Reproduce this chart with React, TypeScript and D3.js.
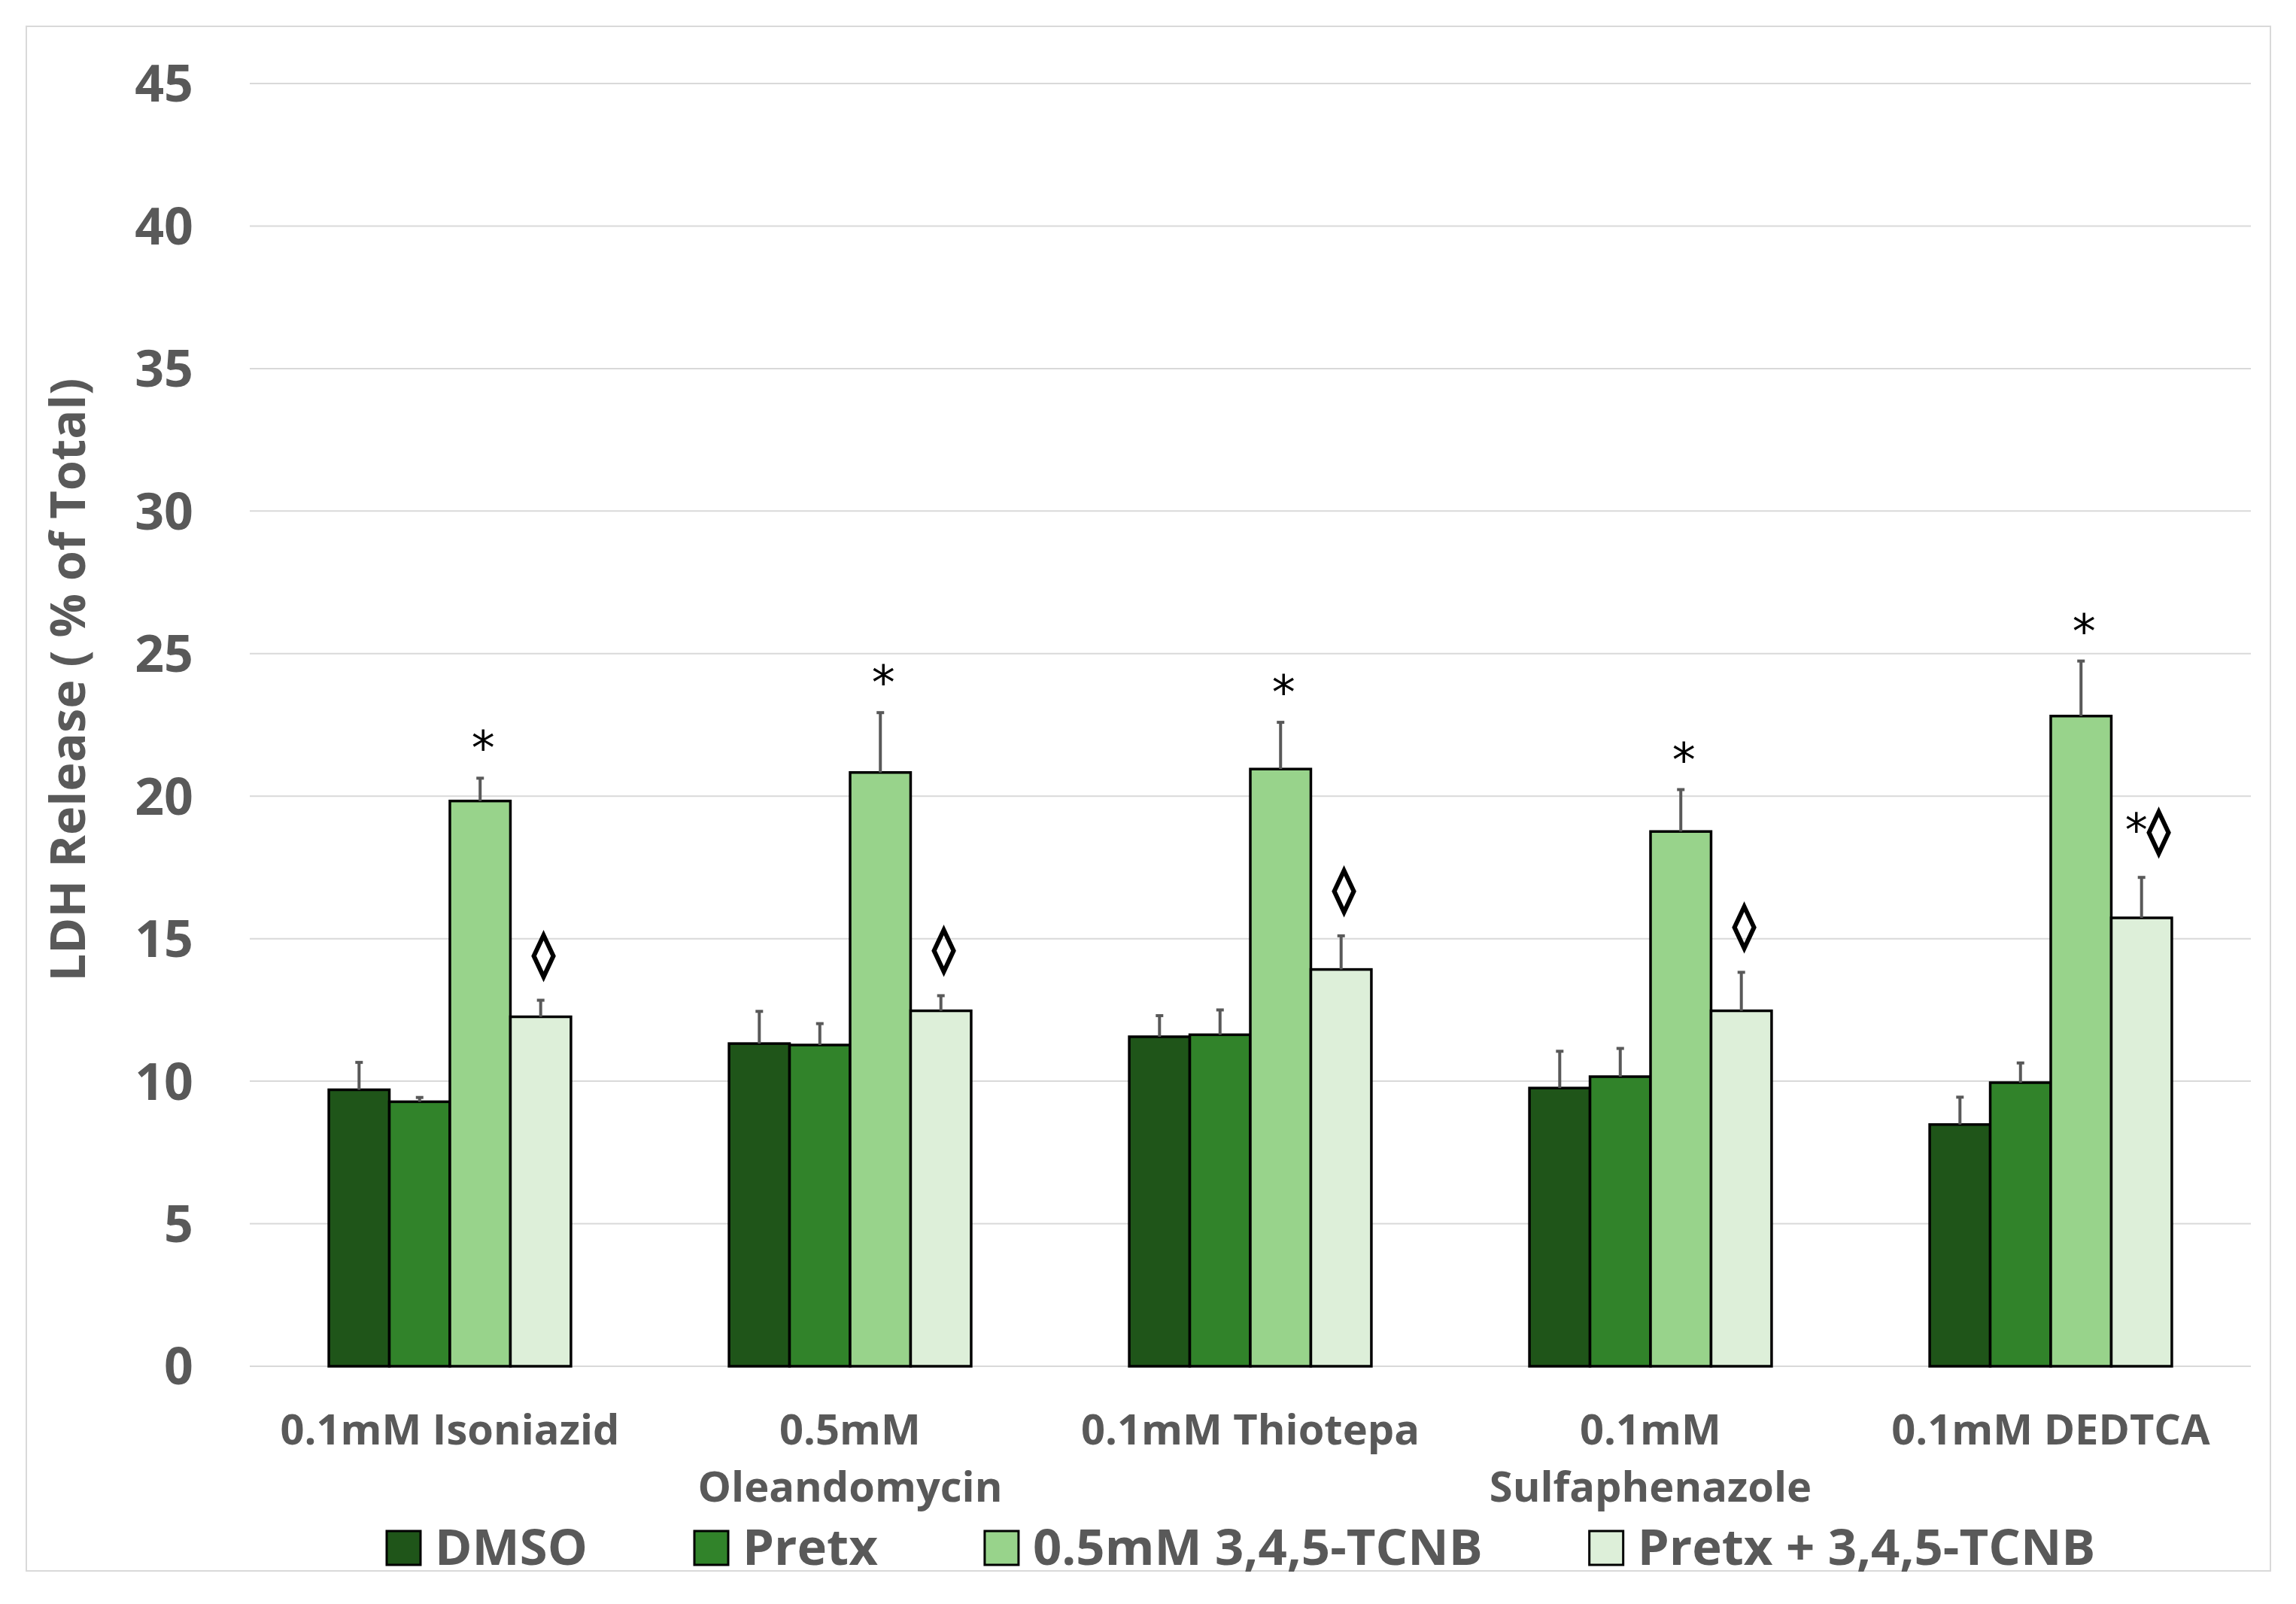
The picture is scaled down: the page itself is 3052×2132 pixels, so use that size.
import React, { useEffect, useRef } from "react";
import * as d3 from "d3";

const categories = [
  "0.1mM Isoniazid",
  "0.5mM Oleandomycin",
  "0.1mM Thiotepa",
  "0.1mM Sulfaphenazole",
  "0.1mM DEDTCA",
];
const categoryLines = [
  ["0.1mM Isoniazid"],
  ["0.5mM", "Oleandomycin"],
  ["0.1mM Thiotepa"],
  ["0.1mM", "Sulfaphenazole"],
  ["0.1mM DEDTCA"],
];
const series = ["DMSO", "Pretx", "0.5mM 3,4,5-TCNB", "Pretx + 3,4,5-TCNB"];
const seriesColors = ["#1f5519", "#31832a", "#98d38b", "#ddefd9"];

const dmso = [9.7, 11.32, 11.56, 9.76, 8.48];
const pretx = [9.28, 11.27, 11.63, 10.16, 9.95];
const tcnb = [19.83, 20.83, 20.95, 18.76, 22.81];
const pretxTcnb = [12.26, 12.47, 13.92, 12.47, 15.73];

const dmsoErr = [0.96, 1.13, 0.74, 1.29, 0.96];
const pretxErr = [0.15, 0.75, 0.87, 0.99, 0.69];
const tcnbErr = [0.8, 2.1, 1.64, 1.47, 1.93];
const pretxTcnbErr = [0.58, 0.53, 1.18, 1.35, 1.42];

// significance marks drawn above the two TCNB series
const tcnbMarks = ["*", "*", "*", "*", "*"];
const pretxTcnbMarks = ["\u25CA", "\u25CA", "\u25CA", "\u25CA", "*\u25CA"];

const yTicks = [0, 5, 10, 15, 20, 25, 30, 35, 40, 45];

const W = 3052;
const H = 2132;

const App: React.FC = () => {
  const ref = useRef<SVGSVGElement>(null);

  useEffect(() => {
    if (!ref.current) return;
    const svg = d3.select(ref.current);
    svg.selectAll("*").remove();

    const plot = { left: 332, right: 2992, top: 111, bottom: 1816 };
    const gray = "#595959";

    const values = [dmso, pretx, tcnb, pretxTcnb];
    const errors = [dmsoErr, pretxErr, tcnbErr, pretxTcnbErr];
    const marks: (string[] | null)[] = [null, null, tcnbMarks, pretxTcnbMarks];

    const x0 = d3
      .scaleBand()
      .domain(categories)
      .range([plot.left, plot.right])
      .paddingInner(0.395)
      .paddingOuter(0.1975);
    const x1 = d3.scaleBand().domain(series).range([0, x0.bandwidth()]);
    const y = d3.scaleLinear().domain([0, 45]).range([plot.bottom, plot.top]);

    // outer frame
    svg
      .append("rect")
      .attr("x", 35)
      .attr("y", 35)
      .attr("width", 2983)
      .attr("height", 2053)
      .attr("fill", "#fff")
      .attr("stroke", "#d9d9d9")
      .attr("stroke-width", 2);

    // gridlines + y labels
    svg
      .append("g")
      .selectAll("line")
      .data(yTicks)
      .enter()
      .append("line")
      .attr("x1", plot.left)
      .attr("x2", plot.right)
      .attr("y1", (d) => y(d))
      .attr("y2", (d) => y(d))
      .attr("stroke", "#d9d9d9")
      .attr("stroke-width", 2);

    svg
      .append("g")
      .selectAll("text")
      .data(yTicks)
      .enter()
      .append("text")
      .attr("x", 257)
      .attr("y", (d) => y(d))
      .attr("dy", "0.36em")
      .attr("text-anchor", "end")
      .attr("font-family", "'Open Sans', sans-serif")
      .attr("font-weight", "bold")
      .attr("font-size", 68)
      .attr("fill", gray)
      .text((d) => d);

    svg
      .append("text")
      .attr("transform", `translate(113,${(plot.top + plot.bottom) / 2 - 60}) rotate(-90)`)
      .attr("text-anchor", "middle")
      .attr("font-family", "'Open Sans', sans-serif")
      .attr("font-weight", "bold")
      .attr("font-size", 65)
      .attr("fill", gray)
      .text("LDH Release ( % of Total)");

    // bars
    series.forEach((s, si) => {
      const g = svg.append("g");
      const data = categories.map((c, ci) => ({
        c,
        v: values[si][ci],
        e: errors[si][ci],
        m: marks[si] ? marks[si]![ci] : "",
      }));
      const bx = (d: { c: string }) => (x0(d.c) || 0) + (x1(s) || 0);
      const cx = (d: { c: string }) => bx(d) + x1.bandwidth() / 2;

      g.selectAll("rect")
        .data(data)
        .enter()
        .append("rect")
        .attr("x", bx)
        .attr("y", (d) => y(d.v))
        .attr("width", x1.bandwidth())
        .attr("height", (d) => y(0) - y(d.v))
        .attr("fill", seriesColors[si])
        .attr("stroke", "#000")
        .attr("stroke-width", 3.5);

      g.selectAll("line.err")
        .data(data)
        .enter()
        .append("line")
        .attr("x1", cx)
        .attr("x2", cx)
        .attr("y1", (d) => y(d.v))
        .attr("y2", (d) => y(d.v + d.e))
        .attr("stroke", gray)
        .attr("stroke-width", 4);
      g.selectAll("line.cap")
        .data(data)
        .enter()
        .append("line")
        .attr("x1", (d) => cx(d) - 5)
        .attr("x2", (d) => cx(d) + 5)
        .attr("y1", (d) => y(d.v + d.e))
        .attr("y2", (d) => y(d.v + d.e))
        .attr("stroke", gray)
        .attr("stroke-width", 4);

      if (marks[si]) {
        const t = g
          .selectAll("text")
          .data(data)
          .enter()
          .append("text")
          .attr("x", (d) => cx(d) + (d.m.length > 1 ? 8 : 4))
          .attr("y", (d) => y(d.v + d.e) - (si === 2 ? 18 : 42))
          .attr("text-anchor", "middle")
          .attr("font-family", "'DejaVu Sans', sans-serif")
          .attr("font-size", si === 2 ? 62 : 60)
          .attr("fill", "#000");
        // diamonds are drawn heavier in the original, so give them a stroke
        t.selectAll("tspan")
          .data((d) => d.m.split(""))
          .enter()
          .append("tspan")
          .attr("stroke", (ch) => (ch === "\u25CA" ? "#000" : "none"))
          .attr("stroke-width", 3)
          .text((ch) => ch);
      }
    });

    // category labels
    const cat = svg.append("g");
    categories.forEach((c, ci) => {
      const t = cat
        .append("text")
        .attr("x", (x0(c) || 0) + x0.bandwidth() / 2)
        .attr("y", 1920)
        .attr("text-anchor", "middle")
        .attr("font-family", "'Open Sans', sans-serif")
        .attr("font-weight", "bold")
        .attr("font-size", 56)
        .attr("fill", gray);
      categoryLines[ci].forEach((line, li) => {
        t.append("tspan")
          .attr("x", (x0(c) || 0) + x0.bandwidth() / 2)
          .attr("dy", li === 0 ? 0 : 76)
          .text(line);
      });
    });

    // legend
    const legend = svg.append("g");
    let lx = 514;
    series.forEach((s, si) => {
      legend
        .append("rect")
        .attr("x", lx)
        .attr("y", 2035)
        .attr("width", 45)
        .attr("height", 45)
        .attr("fill", seriesColors[si])
        .attr("stroke", "#000")
        .attr("stroke-width", 3);
      const t = legend
        .append("text")
        .attr("x", lx + 64)
        .attr("y", 2080)
        .attr("font-family", "'Open Sans', sans-serif")
        .attr("font-weight", "bold")
        .attr("font-size", 67)
        .attr("fill", gray)
        .text(s);
      const w = (t.node() as SVGTextElement).getComputedTextLength();
      lx += 64 + w + 142;
    });
  }, []);

  return (
    <svg
      ref={ref}
      width={W}
      height={H}
      style={{ position: "absolute", left: 0, top: 0, background: "#fff" }}
    />
  );
};

export default App;
